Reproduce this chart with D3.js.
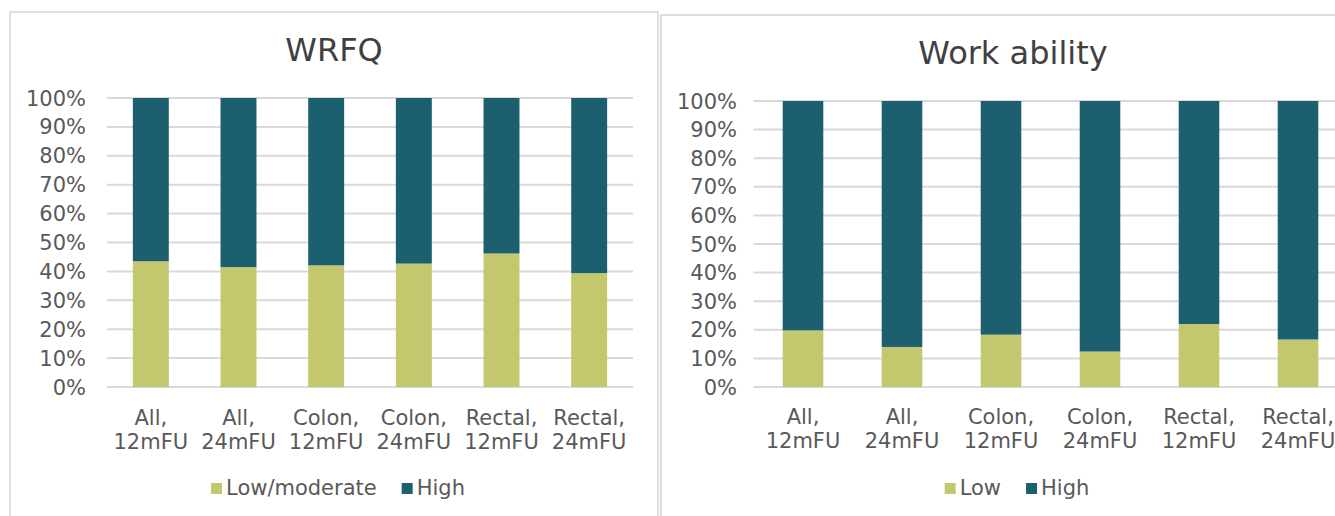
<!DOCTYPE html>
<html>
<head>
<meta charset="utf-8">
<script src="https://cdn.jsdelivr.net/npm/d3@7"></script>
<style>
  html, body { margin: 0; padding: 0; background: #fff; }
  svg { display: block; font-family: "DejaVu Sans", Verdana, sans-serif; }
</style>
</head>
<body>
<svg id="chart" width="1335" height="516"></svg>
<script>
// categories shared by both charts
const categories = ["All, 12mFU", "All, 24mFU", "Colon, 12mFU", "Colon, 24mFU", "Rectal, 12mFU", "Rectal, 24mFU"];

// WRFQ values (%)
const wrfqLow = [43.5, 41.5, 42.1, 42.7, 46.2, 39.4];
const wrfqHigh = [56.5, 58.5, 57.9, 57.3, 53.8, 60.6];

// Work ability values (%)
const workLow = [19.8, 14.0, 18.3, 12.4, 22.0, 16.6];
const workHigh = [80.2, 86.0, 81.7, 87.6, 78.0, 83.4];

// y axis ticks
const yTicks = [0, 10, 20, 30, 40, 50, 60, 70, 80, 90, 100];

const colLow = "#c3c86e";
const colHigh = "#1c6070";
const textCol = "#595959";
const fs = 21;

const svg = d3.select("#chart");

// one panel = one stacked chart
function drawPanel(opt) {
  const g = svg.append("g");

  // chart frame
  g.append("rect")
    .attr("x", opt.frame[0]).attr("y", opt.frame[1])
    .attr("width", opt.frame[2]).attr("height", 600)
    .attr("fill", "none")
    .attr("stroke", "#d4d4d4")
    .attr("stroke-width", 1.5);

  // title
  g.append("text")
    .attr("x", opt.titleX).attr("y", opt.titleY)
    .attr("text-anchor", "middle")
    .attr("font-size", 32)
    .attr("fill", "#404040")
    .text(opt.title);

  const x = d3.scaleBand()
    .domain(categories)
    .range(opt.xRange)
    .paddingInner(0.59)
    .paddingOuter(0.295);

  const y = d3.scaleLinear()
    .domain([0, 100])
    .range(opt.yRange);

  // gridlines
  g.selectAll("line.grid")
    .data(yTicks)
    .enter()
    .append("line")
    .attr("class", "grid")
    .attr("x1", opt.xRange[0]).attr("x2", opt.gridEnd)
    .attr("y1", d => y(d)).attr("y2", d => y(d))
    .attr("stroke", "#d9d9d9")
    .attr("stroke-width", 2);

  // y labels
  g.selectAll("text.ytick")
    .data(yTicks)
    .enter()
    .append("text")
    .attr("class", "ytick")
    .attr("x", opt.yLabelX)
    .attr("y", d => y(d))
    .attr("dy", "0.36em")
    .attr("text-anchor", "end")
    .attr("font-size", fs)
    .attr("fill", textCol)
    .text(d => d + "%");

  // stack the two series
  const rows = categories.map((c, i) => ({ cat: c, low: opt.low[i], high: opt.high[i] }));
  const series = d3.stack().keys(["low", "high"])(rows);
  const colors = { low: colLow, high: colHigh };

  g.selectAll("g.series")
    .data(series)
    .enter()
    .append("g")
    .attr("fill", d => colors[d.key])
    .selectAll("rect")
    .data(d => d)
    .enter()
    .append("rect")
    .attr("x", d => x(d.data.cat))
    .attr("width", x.bandwidth())
    .attr("y", d => y(d[1]))
    .attr("height", d => y(d[0]) - y(d[1]));

  // category labels on two lines
  const cl = g.selectAll("text.cat")
    .data(categories)
    .enter()
    .append("text")
    .attr("class", "cat")
    .attr("text-anchor", "middle")
    .attr("font-size", fs)
    .attr("fill", textCol);
  cl.append("tspan")
    .attr("x", d => x(d) + x.bandwidth() / 2)
    .attr("y", opt.catY)
    .text(d => d.split(" ")[0]);
  cl.append("tspan")
    .attr("x", d => x(d) + x.bandwidth() / 2)
    .attr("y", opt.catY + 24)
    .text(d => d.split(" ")[1]);

  // legend
  const leg = g.append("g");
  let cx = 0;
  opt.legend.forEach((name, i) => {
    leg.append("rect")
      .attr("x", cx).attr("y", opt.legendY - 12)
      .attr("width", 11).attr("height", 11)
      .attr("fill", i === 0 ? colLow : colHigh);
    const t = leg.append("text")
      .attr("x", cx + 15).attr("y", opt.legendY)
      .attr("font-size", fs)
      .attr("fill", textCol)
      .text(name);
    cx += 15 + t.node().getComputedTextLength() + 25;
  });
  const legW = cx - 25;
  leg.attr("transform", `translate(${opt.legendCenter - legW / 2},0)`);
}

drawPanel({
  title: "WRFQ",
  frame: [10, 12, 648],
  titleX: 334, titleY: 61,
  xRange: [107, 633], gridEnd: 633,
  yRange: [387, 98],
  yLabelX: 86,
  catY: 425,
  low: wrfqLow, high: wrfqHigh,
  legend: ["Low/moderate", "High"],
  legendY: 495, legendCenter: 338
});

drawPanel({
  title: "Work ability",
  frame: [661, 15, 720],
  titleX: 1013, titleY: 64,
  xRange: [753.5, 1347.5], gridEnd: 1340,
  yRange: [387, 101],
  yLabelX: 737,
  catY: 424,
  low: workLow, high: workHigh,
  legend: ["Low", "High"],
  legendY: 495, legendCenter: 1017
});
</script>
</body>
</html>
